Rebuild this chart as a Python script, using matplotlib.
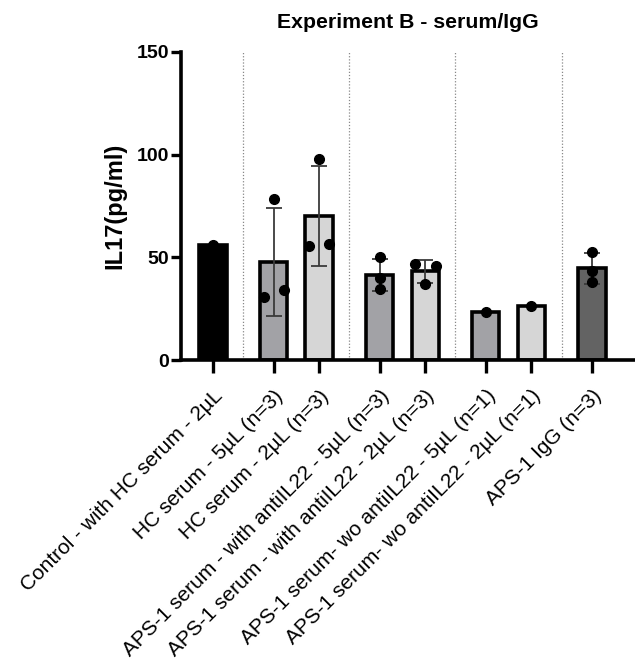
import numpy as np
import matplotlib.pyplot as plt
from matplotlib.transforms import ScaledTranslation

plt.rcParams['font.family'] = ['Liberation Sans', 'DejaVu Sans']

# IL17 values per condition (pg/ml)
labels = [
    "Control - with HC serum - 2µL",
    "HC serum - 5µL (n=3)",
    "HC serum - 2µL (n=3)",
    "APS-1 serum - with antiIL22 - 5µL (n=3)",
    "APS-1 serum - with antiIL22 - 2µL (n=3)",
    "APS-1 serum- wo antiIL22 - 5µL (n=1)",
    "APS-1 serum- wo antiIL22 - 2µL (n=1)",
    "APS-1 IgG (n=3)",
]
points = [
    [56.0],
    [78.3, 30.8, 34.1],
    [98.0, 55.7, 56.3],
    [50.0, 40.1, 34.4],
    [46.8, 36.9, 45.9],
    [23.2],
    [26.5],
    [52.5, 43.4, 37.8],
]
colors = ['#000000', '#a2a2a6', '#d6d6d6', '#a2a2a6', '#d6d6d6',
          '#a2a2a6', '#d6d6d6', '#636363']

# bar positions: groups separated by a small gap
xpos = np.array([0, 4/3, 7/3, 11/3, 14/3, 6, 7, 25/3])
separators = [2/3, 3, 16/3, 23/3]
# horizontal scatter of the individual points
jitter = [
    [0],
    [0, -0.22, 0.23],
    [0, -0.23, 0.23],
    [0, 0, 0],
    [-0.23, 0, 0.23],
    [0],
    [0],
    [0, 0, 0],
]

means = np.array([np.mean(p) for p in points])
sds = np.array([np.std(p, ddof=1) if len(p) > 1 else 0 for p in points])

fig = plt.figure(figsize=(6.35, 6.59), dpi=100)
ax = fig.add_axes([0.2858, 0.4537, 0.7142, 0.4674])

for s in separators:
    ax.plot([s, s], [0, 150], color='#888888', lw=0.9, ls=(0, (1, 1.5)), zorder=1)

ax.bar(xpos, means, width=0.6, color=colors, edgecolor='black', linewidth=2.6, zorder=2)

for i in range(len(points)):
    if sds[i] > 0:
        ax.errorbar(xpos[i], means[i], yerr=sds[i], fmt='none', ecolor='#3a3a3a',
                    elinewidth=1.3, capsize=6, capthick=1.3, zorder=3)
    ax.plot(xpos[i] + np.array(jitter[i]), points[i], 'o', color='black',
            markersize=7, zorder=4, clip_on=False)

ax.set_xlim(-0.69, 9.28)
ax.set_ylim(0, 150)
ax.set_yticks([0, 50, 100, 150])
ax.set_xticks(xpos)
ax.set_xticklabels(labels, rotation=45, ha='right', va='top',
                   rotation_mode='anchor', fontsize=15)
shift = ScaledTranslation(5 / 100, 0, fig.dpi_scale_trans)
for t in ax.get_xticklabels():
    t.set_transform(t.get_transform() + shift)
for t in ax.get_yticklabels():
    t.set_fontweight('bold')
    t.set_fontsize(14)

ax.spines['top'].set_visible(False)
ax.spines['right'].set_visible(False)
ax.spines['left'].set_linewidth(2.6)
ax.spines['bottom'].set_linewidth(2.6)
ax.tick_params(axis='x', length=9, width=2.4, pad=10)
ax.tick_params(axis='y', length=7, width=2.4, pad=2)

ax.set_ylabel('IL17(pg/ml)', fontsize=17, fontweight='bold', labelpad=7)
ax.set_title('Experiment B - serum/IgG', fontsize=15.3, fontweight='bold', pad=17)

fig.savefig('out.png', dpi=100)
